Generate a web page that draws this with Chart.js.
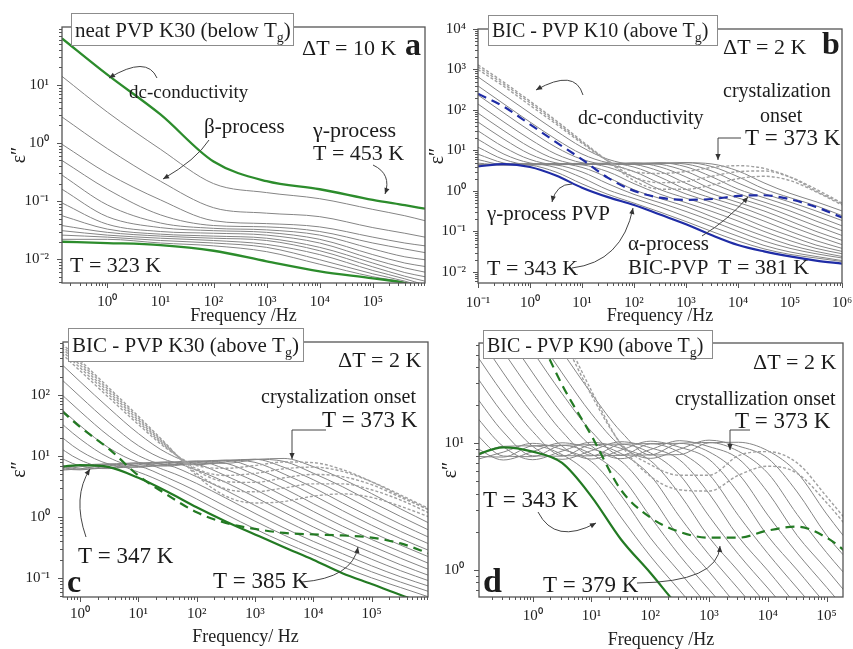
<!DOCTYPE html>
<html>
<head>
<meta charset="utf-8">
<script src="https://cdn.jsdelivr.net/npm/chart.js@4.4.0/dist/chart.umd.min.js"></script>
<style>
  html, body { margin: 0; padding: 0; background: #fff; overflow: hidden; }
  #wrap { position: relative; width: 853px; height: 649px; overflow: hidden; }
  #wrap canvas { position: absolute; }
</style>
</head>
<body>
<div id="wrap">
  <canvas id="chartA" width="430" height="330" style="left:0px;top:0px"></canvas>
  <canvas id="chartB" width="440" height="330" style="left:425px;top:0px"></canvas>
  <canvas id="chartC" width="430" height="327" style="left:0px;top:322px"></canvas>
  <canvas id="chartD" width="440" height="327" style="left:425px;top:322px"></canvas>
</div>
<script>
// ---- (a) neat PVP K30 below Tg, 323..453 K every 10 K
var freqA = [0.14, 1, 10, 100, 1e3, 1e4, 1e5, 4e5, 9.6e5];
var tempsA = [323, 333, 343, 353, 363, 373, 383, 393, 403, 413, 423, 433, 443, 453];
var lossA = [
  [0.020, 0.019, 0.0175, 0.014, 0.0092, 0.0062, 0.0047, 0.0039, 0.0030],
  [0.022, 0.022, 0.019, 0.017, 0.0135, 0.0082, 0.0050, 0.0040, 0.0031],
  [0.026, 0.024, 0.021, 0.019, 0.016, 0.0098, 0.0056, 0.0042, 0.0033],
  [0.031, 0.026, 0.023, 0.021, 0.018, 0.012, 0.0064, 0.0046, 0.0036],
  [0.038, 0.029, 0.025, 0.023, 0.021, 0.014, 0.0074, 0.0051, 0.0042],
  [0.056, 0.033, 0.027, 0.025, 0.023, 0.016, 0.0086, 0.0059, 0.0050],
  [0.093, 0.040, 0.030, 0.028, 0.026, 0.019, 0.010, 0.0071, 0.0060],
  [0.16, 0.054, 0.035, 0.031, 0.029, 0.022, 0.012, 0.0086, 0.0075],
  [0.28, 0.086, 0.042, 0.034, 0.032, 0.026, 0.015, 0.011, 0.0098],
  [0.50, 0.16, 0.058, 0.038, 0.036, 0.030, 0.019, 0.015, 0.013],
  [0.95, 0.30, 0.105, 0.046, 0.041, 0.036, 0.024, 0.019, 0.017],
  [2.8, 0.80, 0.22, 0.077, 0.062, 0.054, 0.035, 0.028, 0.024],
  [14, 3.4, 0.78, 0.20, 0.14, 0.11, 0.072, 0.056, 0.046],
  [63, 15, 3.1, 0.48, 0.22, 0.16, 0.105, 0.085, 0.074]
];

// ---- (b) BIC - PVP K10 above Tg, 343..381 K every 2 K
var freqB = [0.1, 0.316, 1, 3.16, 10, 31.6, 100, 316, 1e3, 3.16e3, 1e4, 3.16e4, 1e5, 3.16e5, 1e6];
var tempsB = [343, 345, 347, 349, 351, 353, 355, 357, 359, 361, 363, 365, 367, 369, 371, 373, 375, 377, 379, 381];
var lossB = [
  [4.0, 4.6, 3.9, 2.4, 1.2, 0.70, 0.45, 0.26, 0.15, 0.080, 0.046, 0.032, 0.024, 0.019, 0.016],
  [4.4, 4.65, 4.35, 2.92, 1.49, 0.82, 0.50, 0.30, 0.175, 0.099, 0.058, 0.037, 0.027, 0.022, 0.018],
  [4.31, 4.52, 4.74, 3.76, 2.12, 1.06, 0.65, 0.40, 0.23, 0.13, 0.076, 0.045, 0.031, 0.024, 0.019],
  [4.41, 4.41, 4.69, 4.38, 2.94, 1.50, 0.82, 0.51, 0.31, 0.18, 0.10, 0.058, 0.038, 0.028, 0.022],
  [4.85, 4.34, 4.55, 4.79, 3.80, 2.14, 1.07, 0.65, 0.41, 0.23, 0.13, 0.076, 0.046, 0.032, 0.024],
  [5.94, 4.44, 4.45, 4.74, 4.42, 2.97, 1.51, 0.83, 0.51, 0.31, 0.18, 0.10, 0.059, 0.038, 0.028],
  [8.06, 4.87, 4.38, 4.59, 4.83, 3.84, 2.17, 1.08, 0.66, 0.41, 0.24, 0.13, 0.077, 0.046, 0.032],
  [12.0, 5.96, 4.47, 4.49, 4.78, 4.46, 3.00, 1.53, 0.84, 0.52, 0.31, 0.18, 0.10, 0.059, 0.038],
  [18.8, 8.08, 4.90, 4.41, 4.63, 4.87, 3.87, 2.19, 1.09, 0.66, 0.42, 0.24, 0.135, 0.078, 0.047],
  [30.5, 12.0, 5.98, 4.49, 4.52, 4.82, 4.51, 3.03, 1.54, 0.85, 0.52, 0.32, 0.18, 0.10, 0.060],
  [50.2, 18.9, 8.09, 4.92, 4.44, 4.68, 4.92, 3.91, 2.21, 1.10, 0.67, 0.42, 0.24, 0.136, 0.079],
  [83.6, 30.5, 12.0, 6.00, 4.52, 4.56, 4.87, 4.55, 3.05, 1.56, 0.86, 0.53, 0.32, 0.18, 0.104],
  [140, 50.2, 18.9, 8.11, 4.95, 4.48, 4.72, 4.96, 3.94, 2.22, 1.11, 0.68, 0.42, 0.24, 0.137],
  [234, 83.6, 30.5, 12.0, 6.02, 4.55, 4.60, 4.91, 4.59, 3.08, 1.57, 0.86, 0.53, 0.32, 0.185],
  [392, 140, 50.3, 18.9, 8.13, 4.97, 4.51, 4.76, 5.01, 3.98, 2.24, 1.12, 0.68, 0.43, 0.245],
  [658, 233, 83.6, 30.5, 12.0, 6.04, 4.58, 4.64, 4.95, 4.63, 3.11, 1.58, 0.87, 0.54, 0.32],
  [1000, 380, 130, 45, 15, 5.5, 3.0, 2.7, 3.0, 3.8, 4.2, 3.6, 2.2, 1.0, 0.48],
  [1150, 430, 150, 50, 16, 5.5, 2.2, 1.6, 1.7, 2.3, 3.0, 3.1, 2.2, 1.1, 0.50],
  [1300, 480, 165, 55, 17, 5.4, 1.8, 1.1, 1.1, 1.4, 2.0, 2.3, 1.8, 0.95, 0.45],
  [250, 120, 44, 16, 6.0, 2.1, 1.0, 0.68, 0.60, 0.63, 0.75, 0.78, 0.62, 0.40, 0.22]
];

// ---- (c) BIC - PVP K30 above Tg, 347..385 K every 2 K
var freqC = [0.316, 1, 3.16, 10, 31.6, 100, 316, 1e3, 3.16e3, 1e4, 3.16e4, 1e5, 3.16e5, 1e6];
var tempsC = [347, 349, 351, 353, 355, 357, 359, 361, 363, 365, 367, 369, 371, 373, 375, 377, 379, 381, 383, 385];
var lossC = [
  [6.3, 7.1, 6.6, 4.4, 2.6, 1.45, 0.85, 0.52, 0.32, 0.20, 0.12, 0.080, 0.053, 0.036],
  [5.92, 7.03, 7.41, 5.47, 3.45, 1.98, 1.11, 0.64, 0.385, 0.243, 0.153, 0.101, 0.070, 0.0485],
  [5.66, 6.66, 7.41, 6.86, 4.42, 2.65, 1.49, 0.859, 0.506, 0.312, 0.197, 0.127, 0.0859, 0.0594],
  [5.77, 6.17, 7.30, 7.69, 5.67, 3.56, 2.05, 1.15, 0.664, 0.40, 0.252, 0.159, 0.105, 0.0728],
  [6.42, 5.94, 6.94, 7.71, 7.12, 4.58, 2.75, 1.55, 0.891, 0.525, 0.324, 0.204, 0.132, 0.0891],
  [7.97, 6.11, 6.45, 7.59, 7.98, 5.89, 3.70, 2.13, 1.20, 0.689, 0.415, 0.262, 0.165, 0.109],
  [11.15, 6.88, 6.23, 7.21, 7.98, 7.38, 4.75, 2.85, 1.60, 0.923, 0.543, 0.335, 0.211, 0.136],
  [17.2, 8.63, 6.45, 6.73, 7.87, 8.26, 6.10, 3.84, 2.20, 1.24, 0.713, 0.43, 0.271, 0.171],
  [28.4, 12.2, 7.36, 6.54, 7.49, 8.28, 7.64, 4.92, 2.95, 1.66, 0.955, 0.562, 0.347, 0.219],
  [48.5, 19.1, 9.38, 6.82, 7.00, 8.15, 8.54, 6.30, 3.96, 2.28, 1.28, 0.736, 0.444, 0.28],
  [84.6, 31.6, 13.5, 7.90, 6.86, 7.77, 8.56, 7.89, 5.08, 3.05, 1.71, 0.986, 0.581, 0.358],
  [149, 54.1, 21.1, 10.2, 7.25, 7.32, 8.46, 8.85, 6.53, 4.10, 2.36, 1.32, 0.762, 0.459],
  [263, 94.5, 35.2, 14.8, 8.47, 7.19, 8.07, 8.86, 8.16, 5.24, 3.15, 1.77, 1.02, 0.60],
  [468, 166, 60.5, 23.4, 11.1, 7.67, 7.60, 8.74, 9.14, 6.72, 4.22, 2.43, 1.36, 0.785],
  [700, 250, 90, 33, 13, 7.0, 6.3, 7.0, 8.0, 7.8, 6.0, 3.8, 2.2, 1.3],
  [780, 280, 100, 36, 13.5, 6.2, 4.8, 5.2, 6.2, 6.6, 5.6, 3.8, 2.3, 1.35],
  [860, 310, 110, 39, 14, 5.8, 3.8, 3.7, 4.4, 5.0, 4.6, 3.4, 2.1, 1.3],
  [940, 340, 120, 42, 14.5, 5.2, 2.9, 2.6, 3.0, 3.5, 3.5, 2.8, 1.9, 1.15],
  [1020, 370, 130, 45, 15, 4.8, 2.2, 1.7, 1.8, 2.2, 2.4, 2.1, 1.5, 1.0],
  [80, 30, 13, 4.8, 2.3, 1.2, 0.80, 0.64, 0.55, 0.52, 0.50, 0.46, 0.37, 0.25]
];

// ---- (d) BIC - PVP K90 above Tg, 343..379 K every 2 K
var freqD = [0.1, 0.316, 1, 3.16, 10, 31.6, 100, 316, 1e3, 3.16e3, 1e4, 3.16e4, 1e5, 3.16e5];
var tempsD = [343, 345, 347, 349, 351, 353, 355, 357, 359, 361, 363, 365, 367, 369, 371, 373, 375, 377, 379];
var lossD = [
  [8.0, 9.3, 8.6, 7.0, 3.8, 1.75, 0.95, 0.50, 0.28],
  [7.74, 9.47, 9.56, 8.15, 5.46, 2.62, 1.29, 0.69, 0.37, 0.21],
  [7.34, 8.53, 10.0, 8.95, 7.17, 3.89, 1.80, 0.96, 0.51, 0.28],
  [7.90, 7.79, 9.55, 9.65, 8.23, 5.51, 2.64, 1.30, 0.70, 0.38, 0.21],
  [9.42, 7.39, 8.61, 10.1, 9.05, 7.26, 3.93, 1.79, 0.97, 0.51, 0.29],
  [12.3, 7.94, 7.85, 9.65, 9.75, 8.32, 5.58, 2.63, 1.32, 0.71, 0.38, 0.21],
  [17.1, 9.44, 7.43, 8.68, 10.2, 9.13, 7.32, 3.97, 1.81, 0.98, 0.52, 0.29],
  [24.6, 12.3, 7.97, 7.92, 9.75, 9.86, 8.41, 5.64, 2.66, 1.33, 0.72, 0.39, 0.22],
  [36.0, 17.1, 9.47, 7.48, 8.76, 10.3, 9.23, 7.40, 4.01, 1.83, 0.99, 0.52, 0.29],
  [53.3, 24.6, 12.4, 8.00, 7.97, 9.83, 9.95, 8.49, 5.69, 2.69, 1.35, 0.72, 0.39, 0.22],
  [79.3, 36.0, 17.1, 9.49, 7.52, 8.83, 10.4, 9.32, 7.47, 4.05, 1.85, 1.00, 0.53, 0.30],
  [118, 53.3, 24.7, 12.4, 8.03, 8.03, 9.91, 10.0, 8.56, 5.74, 2.71, 1.36, 0.73, 0.39],
  [177, 79.3, 36.0, 17.1, 9.52, 7.57, 8.92, 10.5, 9.42, 7.56, 4.10, 1.87, 1.01, 0.53],
  [264, 118, 53.3, 24.7, 12.4, 8.07, 8.10, 10.0, 10.15, 8.66, 5.81, 2.74, 1.37, 0.74],
  [395, 177, 79.4, 36.0, 17.1, 9.54, 7.61, 8.99, 10.6, 9.51, 7.62, 4.13, 1.88, 1.02],
  [592, 264, 118, 53.3, 24.7, 12.4, 8.10, 8.15, 10.1, 10.2, 8.74, 5.86, 2.77, 1.39],
  [2000, 650, 210, 70, 24, 10, 6.8, 5.6, 5.6, 8.0, 8.6, 7.0, 3.8, 2.0],
  [2300, 750, 240, 78, 26, 9.8, 5.5, 4.3, 4.2, 5.6, 6.6, 5.8, 3.4, 1.8],
  [900, 285, 90, 29, 11.5, 4.3, 2.6, 2.0, 1.8, 1.8, 2.05, 2.2, 1.8, 1.2]
];

var SERIF = "'Liberation Serif', 'Times New Roman', serif";
Chart.defaults.font.family = SERIF;
Chart.defaults.color = '#222';

var GRAY = '#858585', DOTGRAY = '#a0a0a0';
var GREEN_A = '#2c8c2c', GREEN = '#237a23', BLUE = '#1f2ca6';

function sup(s) {
  var m = {'-': '\u207B', '0': '\u2070', '1': '\u00B9', '2': '\u00B2', '3': '\u00B3', '4': '\u2074',
           '5': '\u2075', '6': '\u2076', '7': '\u2077', '8': '\u2078', '9': '\u2079'};
  return String(s).split('').map(function (c) { return m[c]; }).join('');
}
function decade(v) { return '10' + sup(Math.round(Math.log10(v))); }
function fnt(size, bold) { return (bold ? 'bold ' : '') + size + 'px ' + SERIF; }

function buildSets(freq, temps, loss, look) {
  return temps.map(function (T, i) {
    return Object.assign({
      label: T + ' K',
      data: loss[i].map(function (v, j) { return {x: freq[j], y: v}; }),
      pointRadius: 0,
      fill: false,
      cubicInterpolationMode: 'monotone'
    }, look(T, i));
  });
}

function solid(c, w) { return {borderColor: c, borderWidth: w, order: 0}; }
function dashed(c) { return {borderColor: c, borderWidth: 2.2, borderDash: [9, 6], order: 0}; }
var grayLine = {borderColor: GRAY, borderWidth: 1, order: 2};
var dotLine = {borderColor: DOTGRAY, borderWidth: 1.4, borderDash: [3, 2], order: 1};

// frame around the plot area plus outward log ticks on the left and bottom
var frameTicks = {
  id: 'frameTicks',
  afterDatasetsDraw: function (chart) {
    var ctx = chart.ctx, a = chart.chartArea, xs = chart.scales.x, ys = chart.scales.y;
    function each(s, fn) {
      var e0 = Math.floor(Math.log10(s.min)), e1 = Math.ceil(Math.log10(s.max));
      for (var e = e0; e <= e1; e++) {
        for (var m = 1; m <= 9; m++) {
          var v = m * Math.pow(10, e);
          if (v < s.min * 0.999 || v > s.max * 1.001) continue;
          fn(Math.round(s.getPixelForValue(v)) + 0.5, m === 1 ? 5 : 3);
        }
      }
    }
    ctx.save();
    ctx.strokeStyle = '#555';
    ctx.lineWidth = 1;
    ctx.beginPath();
    each(xs, function (p, len) { ctx.moveTo(p, a.bottom); ctx.lineTo(p, a.bottom + len); });
    each(ys, function (p, len) { ctx.moveTo(a.left, p); ctx.lineTo(a.left - len, p); });
    ctx.stroke();
    ctx.lineWidth = 1.3;
    ctx.strokeRect(a.left, a.top, a.right - a.left, a.bottom - a.top);
    ctx.restore();
  }
};

function arrowHead(ctx, fx, fy, tx, ty) {
  var ang = Math.atan2(ty - fy, tx - fx), L = 6, W = 2.6;
  var c = Math.cos(ang), s = Math.sin(ang);
  ctx.beginPath();
  ctx.moveTo(tx, ty);
  ctx.lineTo(tx - L * c + W * s, ty - L * s - W * c);
  ctx.lineTo(tx - L * c - W * s, ty - L * s + W * c);
  ctx.closePath();
  ctx.fill();
}

function drawNote(ctx, n) {
  ctx.fillStyle = '#1c1c1c';
  ctx.strokeStyle = '#444';
  ctx.lineWidth = 1;
  ctx.textAlign = 'left';
  ctx.textBaseline = 'alphabetic';
  if (n.kind === 'text') {
    ctx.font = fnt(n.size, n.bold);
    ctx.fillText(n.text, n.x, n.y);
  } else if (n.kind === 'box') {
    ctx.fillStyle = '#fff';
    ctx.fillRect(n.x, n.y, n.w, n.h);
    ctx.strokeStyle = '#8c8c8c';
    ctx.strokeRect(n.x + 0.5, n.y + 0.5, n.w, n.h);
    ctx.fillStyle = '#1c1c1c';
    var x = n.x + 4;
    ctx.font = fnt(n.size);
    ctx.fillText(n.text, x, n.base);
    x += ctx.measureText(n.text).width;
    ctx.font = fnt(Math.round(n.size * 0.68));
    ctx.fillText(n.sub, x, n.base + 5);
    x += ctx.measureText(n.sub).width;
    ctx.font = fnt(n.size);
    ctx.fillText(n.tail, x, n.base);
  } else if (n.kind === 'curve') {
    var p = n.pts;
    ctx.beginPath();
    ctx.moveTo(p[0], p[1]);
    ctx.quadraticCurveTo(p[2], p[3], p[4], p[5]);
    ctx.stroke();
    ctx.fillStyle = '#333';
    arrowHead(ctx, p[2], p[3], p[4], p[5]);
  } else if (n.kind === 'leader') {
    var q = n.pts, k = q.length;
    ctx.beginPath();
    ctx.moveTo(q[0], q[1]);
    for (var i = 2; i < k; i += 2) ctx.lineTo(q[i], q[i + 1]);
    ctx.stroke();
    ctx.fillStyle = '#333';
    arrowHead(ctx, q[k - 4], q[k - 3], q[k - 2], q[k - 1]);
  }
}

function notesPlugin(list) {
  return {
    id: 'notes',
    afterDraw: function (chart) {
      var ctx = chart.ctx;
      ctx.save();
      list.forEach(function (n) { drawNote(ctx, n); });
      ctx.restore();
    }
  };
}

function makeChart(id, c) {
  return new Chart(document.getElementById(id), {
    type: 'line',
    data: {datasets: c.datasets},
    options: {
      responsive: false,
      animation: false,
      devicePixelRatio: 1,
      events: [],
      layout: {padding: c.pad},
      elements: {line: {capBezierPoints: false}, point: {radius: 0}},
      plugins: {legend: {display: false}, tooltip: {enabled: false}},
      scales: {
        x: {
          type: 'logarithmic', min: c.xmin, max: c.xmax, bounds: 'data',
          grid: {display: false}, border: {display: false},
          afterBuildTicks: function (s) { s.ticks = c.xticks.map(function (v) { return {value: v}; }); },
          afterFit: function (s) { s.height = c.xh; },
          ticks: {callback: decade, autoSkip: false, maxRotation: 0, padding: c.xpad,
                  font: {size: 15}, color: '#222'},
          title: {display: true, text: c.xtitle, font: {size: 18, lineHeight: c.xlh || 1.2},
                  color: '#222', padding: {top: 0, bottom: c.xtb}}
        },
        y: {
          type: 'logarithmic', min: c.ymin, max: c.ymax, bounds: 'data',
          grid: {display: false}, border: {display: false},
          afterBuildTicks: function (s) { s.ticks = c.yticks.map(function (v) { return {value: v}; }); },
          afterFit: function (s) { s.width = c.yw; },
          ticks: {callback: decade, autoSkip: false, padding: c.ypad, font: {size: 15}, color: '#222'},
          title: {display: true, text: '\u03B5\u2033', font: {size: 20}, color: '#222',
                  padding: {top: c.ytp, bottom: 0}}
        }
      }
    },
    plugins: [frameTicks, notesPlugin(c.notes)]
  });
}

// (a)
makeChart('chartA', {
  datasets: buildSets(freqA, tempsA, lossA, function (T, i) {
    return (i === 0 || i === tempsA.length - 1) ? solid(GREEN_A, 2.3) : grayLine;
  }),
  pad: {left: 0, right: 5, top: 27, bottom: 0}, yw: 62, xh: 47,
  xmin: 0.14, xmax: 9.6e5, ymin: 0.0039, ymax: 99,
  xticks: [1, 10, 100, 1e3, 1e4, 1e5], yticks: [0.01, 0.1, 1, 10],
  xpad: 2, ypad: 5, xtb: 3, ytp: 8, xtitle: 'Frequency /Hz',
  notes: [
    {kind: 'box', x: 71, y: 13, w: 222, h: 32, text: 'neat PVP K30 (below T', sub: 'g', tail: ')', size: 21, base: 37},
    {kind: 'text', text: '\u0394T = 10 K', x: 302, y: 55, size: 22},
    {kind: 'text', text: 'a', x: 405, y: 55, size: 32, bold: true},
    {kind: 'text', text: 'dc-conductivity', x: 129, y: 98, size: 19},
    {kind: 'curve', pts: [157, 78, 147, 55, 109, 78]},
    {kind: 'text', text: '\u03B2-process', x: 204, y: 133, size: 21},
    {kind: 'curve', pts: [209, 140, 196, 160, 163, 179]},
    {kind: 'text', text: '\u03B3-process', x: 313, y: 137, size: 22},
    {kind: 'text', text: 'T = 453 K', x: 313, y: 160, size: 22},
    {kind: 'curve', pts: [373, 165, 392, 174, 385, 194]},
    {kind: 'text', text: 'T = 323 K', x: 70, y: 272, size: 22}
  ]
});

// (b)
makeChart('chartB', {
  datasets: buildSets(freqB, tempsB, lossB, function (T) {
    if (T === 343) return solid(BLUE, 2.2);
    if (T === 381) return dashed(BLUE);
    return T > 373 ? dotLine : grayLine;
  }),
  pad: {left: 0, right: 23, top: 29, bottom: 0}, yw: 53, xh: 47,
  xmin: 0.1, xmax: 1e6, ymin: 0.0053, ymax: 1e4,
  xticks: [0.1, 1, 10, 100, 1e3, 1e4, 1e5, 1e6], yticks: [0.01, 0.1, 1, 10, 100, 1e3, 1e4],
  xpad: 3, ypad: 4, xtb: 3, ytp: 1, xtitle: 'Frequency /Hz',
  notes: [
    {kind: 'box', x: 63, y: 15, w: 229, h: 30, text: 'BIC - PVP K10 (above T', sub: 'g', tail: ')', size: 20, base: 37},
    {kind: 'text', text: '\u0394T = 2 K', x: 298, y: 54, size: 22},
    {kind: 'text', text: 'b', x: 397, y: 54, size: 32, bold: true},
    {kind: 'text', text: 'dc-conductivity', x: 153, y: 124, size: 20},
    {kind: 'curve', pts: [158, 95, 150, 68, 111, 90]},
    {kind: 'text', text: 'crystalization', x: 298, y: 97, size: 20},
    {kind: 'text', text: 'onset', x: 335, y: 122, size: 20},
    {kind: 'text', text: 'T = 373 K', x: 320, y: 145, size: 23},
    {kind: 'leader', pts: [316, 138, 293, 138, 293, 160]},
    {kind: 'text', text: '\u03B3-process PVP', x: 62, y: 220, size: 21},
    {kind: 'curve', pts: [147, 184, 131, 184, 127, 202]},
    {kind: 'text', text: '\u03B1-process', x: 203, y: 250, size: 21},
    {kind: 'text', text: 'BIC-PVP', x: 203, y: 274, size: 21},
    {kind: 'text', text: 'T = 381 K', x: 293, y: 274, size: 22},
    {kind: 'curve', pts: [277, 236, 303, 220, 323, 197]},
    {kind: 'text', text: 'T = 343 K', x: 62, y: 275, size: 22},
    {kind: 'curve', pts: [147, 268, 197, 262, 208, 208]}
  ]
});

// (c)
makeChart('chartC', {
  datasets: buildSets(freqC, tempsC, lossC, function (T) {
    if (T === 347) return solid(GREEN, 2.2);
    if (T === 385) return dashed(GREEN);
    return T > 373 ? dotLine : grayLine;
  }),
  pad: {left: 0, right: 2, top: 20, bottom: 0}, yw: 63, xh: 52,
  xmin: 0.51, xmax: 9.3e5, ymin: 0.049, ymax: 740,
  xticks: [1, 10, 100, 1e3, 1e4, 1e5], yticks: [0.1, 1, 10, 100],
  xpad: 0, ypad: 5, xtb: 1, ytp: 8, xtitle: 'Frequency/ Hz',
  notes: [
    {kind: 'box', x: 68, y: 6, w: 235, h: 33, text: 'BIC - PVP K30 (above T', sub: 'g', tail: ')', size: 21, base: 30},
    {kind: 'text', text: '\u0394T = 2 K', x: 338, y: 45, size: 22},
    {kind: 'text', text: 'crystalization onset', x: 261, y: 81, size: 20},
    {kind: 'text', text: 'T = 373 K', x: 322, y: 105, size: 23},
    {kind: 'leader', pts: [326, 108, 292, 108, 292, 137]},
    {kind: 'text', text: 'T = 347 K', x: 78, y: 241, size: 23},
    {kind: 'curve', pts: [86, 215, 72, 175, 90, 147]},
    {kind: 'text', text: 'T = 385 K', x: 213, y: 266, size: 23},
    {kind: 'curve', pts: [302, 260, 352, 256, 358, 225]},
    {kind: 'text', text: 'c', x: 67, y: 270, size: 32, bold: true}
  ]
});

// (d)
makeChart('chartD', {
  datasets: buildSets(freqD, tempsD, lossD, function (T) {
    if (T === 343) return solid(GREEN, 2.2);
    if (T === 379) return dashed(GREEN);
    return T > 373 ? dotLine : grayLine;
  }),
  pad: {left: 0, right: 22, top: 21, bottom: 0}, yw: 54, xh: 52,
  xmin: 0.122, xmax: 1.9e5, ymin: 0.612, ymax: 62,
  xticks: [1, 10, 100, 1e3, 1e4, 1e5], yticks: [1, 10],
  xpad: 2, ypad: 7, xtb: 0, xlh: 1.0, ytp: 14, xtitle: 'Frequency /Hz',
  notes: [
    {kind: 'box', x: 58, y: 8, w: 229, h: 28, text: 'BIC - PVP K90 (above T', sub: 'g', tail: ')', size: 20, base: 30},
    {kind: 'text', text: '\u0394T = 2 K', x: 328, y: 47, size: 22},
    {kind: 'text', text: 'crystallization onset', x: 250, y: 83, size: 20},
    {kind: 'text', text: 'T = 373 K', x: 310, y: 106, size: 23},
    {kind: 'leader', pts: [325, 108, 305, 108, 305, 128]},
    {kind: 'text', text: 'T = 343 K', x: 58, y: 185, size: 23},
    {kind: 'curve', pts: [113, 190, 130, 223, 171, 201]},
    {kind: 'text', text: 'T = 379 K', x: 118, y: 270, size: 23},
    {kind: 'curve', pts: [212, 261, 293, 260, 295, 224]},
    {kind: 'text', text: 'd', x: 58, y: 270, size: 34, bold: true}
  ]
});
</script>
</body>
</html>
